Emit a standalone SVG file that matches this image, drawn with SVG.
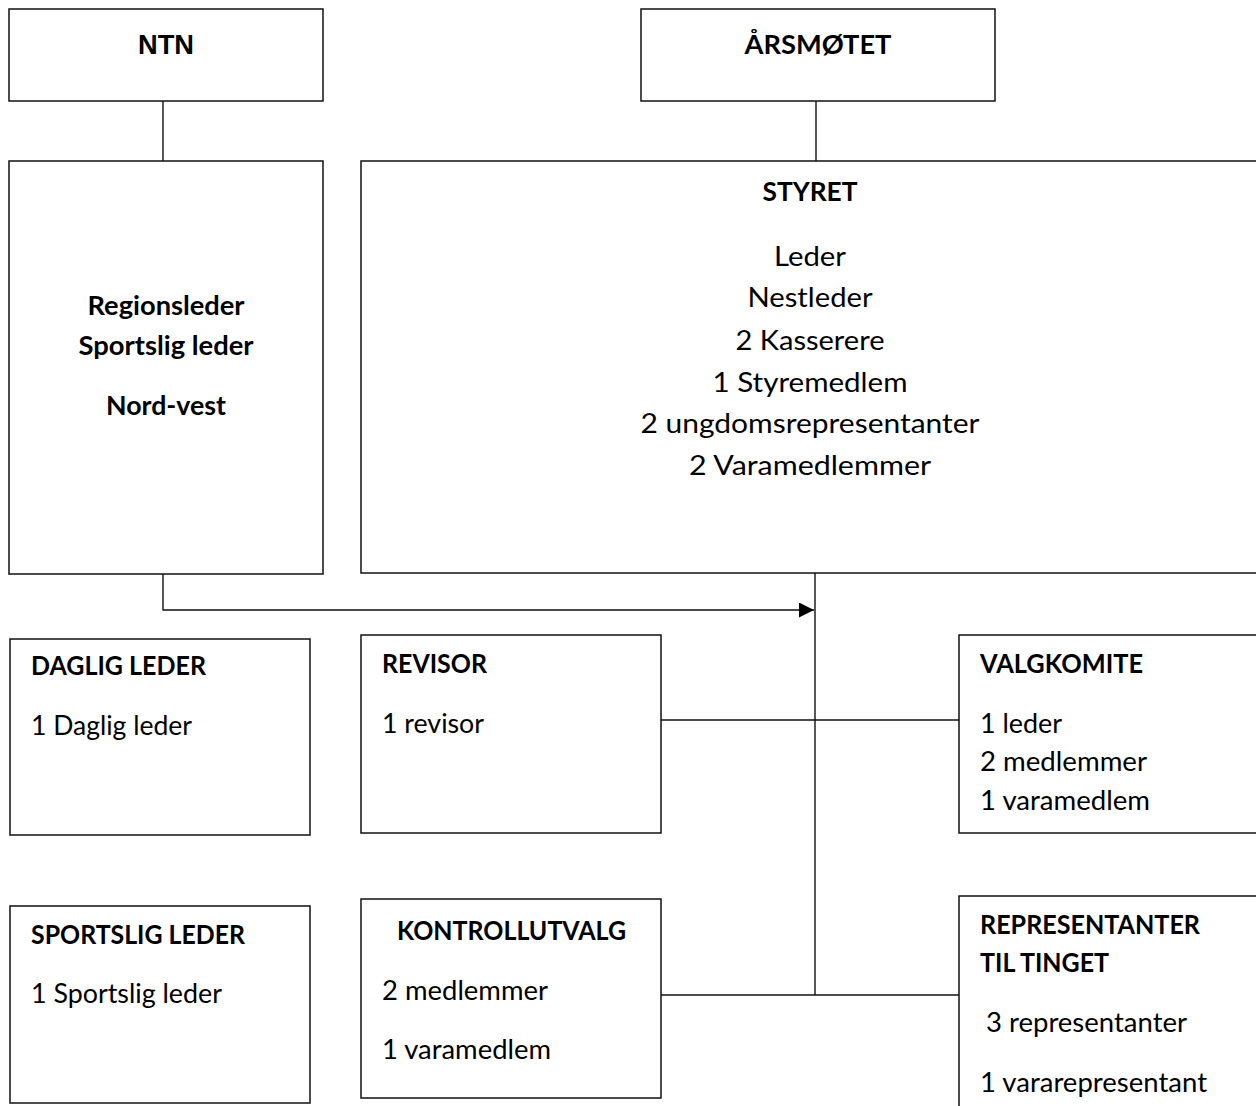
<svg xmlns="http://www.w3.org/2000/svg" width="1256" height="1106" viewBox="0 0 1256 1106">
<style>
.box{fill:#fff;stroke:#111;stroke-width:1.5}
.ln{fill:none;stroke:#111;stroke-width:1.4}
.t{font-family:Lato,"Open Sans",sans-serif;font-size:27px;fill:#000}
.b{font-weight:bold}
.a{font-family:"Liberation Sans",Arial,sans-serif;font-size:27px;font-weight:bold;fill:#000}
.c{text-anchor:middle}
</style>
<defs>
<marker id="arr" markerWidth="16" markerHeight="16" refX="15" refY="7.5" orient="auto" markerUnits="userSpaceOnUse">
<path d="M0,0 L15,7.5 L0,15 Z" fill="#000"/>
</marker>
</defs>
<g id="connectors">
<line class="ln" x1="163" y1="101" x2="163" y2="161"/>
<line class="ln" x1="816" y1="101" x2="816" y2="161"/>
<polyline class="ln" points="163,574 163,610 814,610" marker-end="url(#arr)"/>
<line class="ln" x1="815" y1="573" x2="815" y2="995"/>
<line class="ln" x1="661" y1="720" x2="959" y2="720"/>
<line class="ln" x1="661" y1="995" x2="959" y2="995"/>
</g>
<g id="ntn">
<rect class="box" x="9" y="9" width="314" height="92"/>
<text class="a c" x="166" y="54" textLength="56" lengthAdjust="spacingAndGlyphs">NTN</text>
</g>
<g id="arsmotet">
<rect class="box" x="641" y="9" width="354" height="92"/>
<text class="t b c" x="818" y="54" textLength="147" lengthAdjust="spacingAndGlyphs">ÅRSMØTET</text>
</g>
<g id="region">
<rect class="box" x="9" y="161" width="314" height="413"/>
<text class="t b c" x="166" y="315" textLength="157" lengthAdjust="spacingAndGlyphs">Regionsleder</text>
<text class="t b c" x="166" y="355" textLength="175" lengthAdjust="spacingAndGlyphs">Sportslig leder</text>
<text class="t b c" x="166" y="415" textLength="120" lengthAdjust="spacingAndGlyphs">Nord-vest</text>
</g>
<g id="styret">
<rect class="box" x="361" y="161" width="900" height="412"/>
<text class="t b c" x="810" y="201" textLength="95" lengthAdjust="spacingAndGlyphs">STYRET</text>
<text class="t c" x="810" y="266" textLength="72" lengthAdjust="spacingAndGlyphs">Leder</text>
<text class="t c" x="810" y="307" textLength="125" lengthAdjust="spacingAndGlyphs">Nestleder</text>
<text class="t c" x="810" y="350" textLength="149" lengthAdjust="spacingAndGlyphs">2 Kasserere</text>
<text class="t c" x="810" y="392" textLength="195" lengthAdjust="spacingAndGlyphs">1 Styremedlem</text>
<text class="t c" x="810" y="433" textLength="339" lengthAdjust="spacingAndGlyphs">2 ungdomsrepresentanter</text>
<text class="t c" x="810" y="475" textLength="242" lengthAdjust="spacingAndGlyphs">2 Varamedlemmer</text>
</g>
<g id="daglig">
<rect class="box" x="10" y="639" width="300" height="196"/>
<text class="t b" x="31" y="675" textLength="175" lengthAdjust="spacingAndGlyphs">DAGLIG LEDER</text>
<text class="t" x="31" y="735" textLength="161" lengthAdjust="spacingAndGlyphs">1 Daglig leder</text>
</g>
<g id="revisor">
<rect class="box" x="361" y="635" width="300" height="198"/>
<text class="t b" x="382" y="673" textLength="105" lengthAdjust="spacingAndGlyphs">REVISOR</text>
<text class="t" x="382" y="733" textLength="102" lengthAdjust="spacingAndGlyphs">1 revisor</text>
</g>
<g id="valgkomite">
<rect class="box" x="959" y="635" width="310" height="198"/>
<text class="t b" x="980" y="673" textLength="163" lengthAdjust="spacingAndGlyphs">VALGKOMITE</text>
<text class="t" x="980" y="733" textLength="82" lengthAdjust="spacingAndGlyphs">1 leder</text>
<text class="t" x="980" y="771" textLength="167" lengthAdjust="spacingAndGlyphs">2 medlemmer</text>
<text class="t" x="980" y="810" textLength="170" lengthAdjust="spacingAndGlyphs">1 varamedlem</text>
</g>
<g id="sportslig">
<rect class="box" x="10" y="906" width="300" height="197"/>
<text class="t b" x="31" y="944" textLength="214" lengthAdjust="spacingAndGlyphs">SPORTSLIG LEDER</text>
<text class="t" x="31" y="1003" textLength="191" lengthAdjust="spacingAndGlyphs">1 Sportslig leder</text>
</g>
<g id="kontroll">
<rect class="box" x="361" y="899" width="300" height="199"/>
<text class="t b" x="397" y="940" textLength="229" lengthAdjust="spacingAndGlyphs">KONTROLLUTVALG</text>
<text class="t" x="382" y="1000" textLength="166" lengthAdjust="spacingAndGlyphs">2 medlemmer</text>
<text class="t" x="382" y="1059" textLength="169" lengthAdjust="spacingAndGlyphs">1 varamedlem</text>
</g>
<g id="representanter">
<rect class="box" x="959" y="896" width="310" height="230"/>
<text class="t b" x="980" y="934" textLength="220" lengthAdjust="spacingAndGlyphs">REPRESENTANTER</text>
<text class="t b" x="980" y="972" textLength="129" lengthAdjust="spacingAndGlyphs">TIL TINGET</text>
<text class="t" x="986" y="1032" textLength="201" lengthAdjust="spacingAndGlyphs">3 representanter</text>
<text class="t" x="980" y="1092" textLength="227" lengthAdjust="spacingAndGlyphs">1 vararepresentant</text>
</g>
</svg>
